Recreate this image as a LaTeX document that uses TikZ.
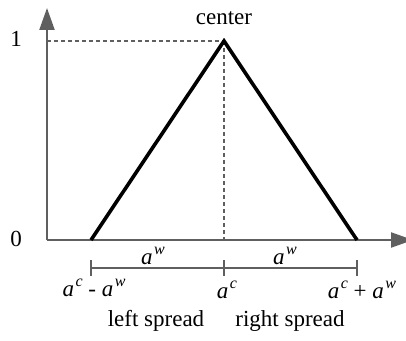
\documentclass[tikz,border=0pt]{standalone}
\usepackage{fontspec}
\setmainfont{Liberation Serif}
\usetikzlibrary{arrows.meta}
\definecolor{axisgray}{HTML}{5F5F5F}
\newcommand{\av}[1]{\textit{a}\kern1.5pt\raisebox{0.42em}{\fontsize{16}{18}\selectfont\textit{#1}}}
\begin{document}
\begin{tikzpicture}[x=1pt,y=1pt,
  axis/.style={draw=axisgray,line width=2.2pt,-{Triangle[length=22pt,width=15pt]}},
  guide/.style={draw=axisgray,line width=1.4pt,dash pattern=on 4pt off 3pt},
  tri/.style={draw=black,line width=3.6pt,line join=miter},
  bar/.style={draw=axisgray,line width=1.8pt},
  lbl/.style={inner sep=0pt,font=\fontsize{23}{25}\selectfont}]
\useasboundingbox (0,0) rectangle (406,340);
\coordinate (O) at (47,100);
\coordinate (ytop) at (47,332);
\coordinate (xend) at (413,100);
\coordinate (L) at (91,100);
\coordinate (C) at (224,299);
\coordinate (R) at (357,100);
\coordinate (Cb) at (224,100);
\coordinate (Y1) at (47,299);
\coordinate (bl) at (91,72);
\coordinate (bc) at (224,72);
\coordinate (br) at (357,72);
\draw[guide] (Y1) -- (C);
\draw[guide] (C) -- (Cb);
\draw[axis] (O) -- (ytop);
\draw[axis] (O) -- (xend);
\draw[tri] (L) -- (C) -- (R);
\draw[bar] (bl) -- (br);
\foreach \p in {bl,bc,br} \draw[bar] ([yshift=-8pt]\p) -- ([yshift=8pt]\p);
\node[lbl] (one) at (16,301) {1};
\node[lbl] (zero) at (16,101) {0};
\node[lbl] (cen) at (224,322) {center};
\node[lbl] (w1) at (153,84) {\av{w}};
\node[lbl] (w2) at (285,84) {\av{w}};
\node[lbl] (lm) at (94,52) {\av{c} - \av{w}};
\node[lbl] (cc) at (227,50) {\av{c}};
\node[lbl] (rp) at (362,50) {\av{c} + \av{w}};
\node[lbl] (ls) at (156,19) {left spread};
\node[lbl] (rs) at (290,19) {right spread};
\end{tikzpicture}
\end{document}
